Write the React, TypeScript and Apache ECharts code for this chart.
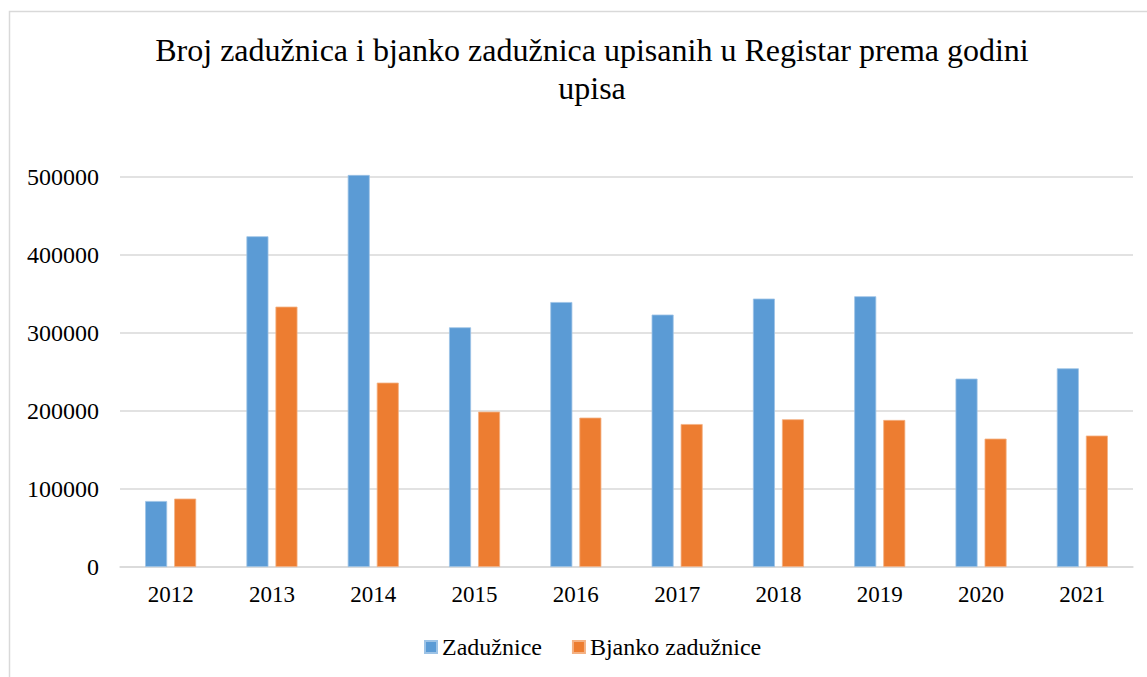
import React, { useEffect, useRef } from "react";
import * as echarts from "echarts";

const titleText = "Broj zadužnica i bjanko zadužnica upisanih u Registar prema godini\nupisa";
const years = ["2012", "2013", "2014", "2015", "2016", "2017", "2018", "2019", "2020", "2021"];
const zaduznice = [84600, 424000, 502600, 307300, 339700, 323600, 344100, 347100, 241500, 254700];
const bjanko = [87700, 333800, 236400, 199200, 191500, 183300, 189400, 188500, 164600, 168500];
const seriesNames = ["Zadužnice", "Bjanko zadužnice"];
const colors = ["#5B9BD5", "#ED7D31"];

const FONT = "Liberation Serif";

export default function App() {
  const ref = useRef<HTMLDivElement>(null);
  useEffect(() => {
    if (!ref.current) return;
    const chart = echarts.init(ref.current, undefined, { renderer: "svg" });
    chart.setOption({
      animation: false,
      backgroundColor: "#ffffff",
      textStyle: { fontFamily: FONT },
      title: {
        text: titleText,
        left: 587,
        textAlign: "center",
        top: 26,
        textStyle: {
          fontFamily: FONT,
          fontSize: 32,
          fontWeight: "normal",
          color: "#000",
          lineHeight: 38,
        },
      },
      graphic: [
        {
          type: "rect",
          shape: { x: 9.5, y: 11.5, width: 1160, height: 700 },
          style: { fill: "none", stroke: "#d9d9d9", lineWidth: 1.5 },
          silent: true,
        },
      ],
      legend: {
        top: 630,
        left: 419,
        itemWidth: 12,
        itemHeight: 12,
        itemGap: 30,
        icon: "rect",
        textStyle: { fontFamily: FONT, fontSize: 24, color: "#000", padding: [0, 0, 0, 0] },
        data: seriesNames,
      },
      grid: { left: 120, right: 14, top: 177, bottom: 110, containLabel: false },
      xAxis: {
        type: "category",
        data: years,
        axisLine: { lineStyle: { color: "#d9d9d9", width: 1.5 } },
        axisTick: { show: false },
        axisLabel: { fontFamily: FONT, fontSize: 23, color: "#000", margin: 16 },
      },
      yAxis: {
        type: "value",
        min: 0,
        max: 500000,
        interval: 100000,
        axisLine: { show: false },
        axisTick: { show: false },
        splitLine: { lineStyle: { color: "#d9d9d9", width: 1.5 } },
        axisLabel: {
          fontFamily: FONT,
          fontSize: 24,
          color: "#000",
          margin: 21,
          formatter: (v: number) => String(v),
        },
      },
      series: [
        {
          name: seriesNames[0],
          type: "bar",
          data: zaduznice,
          barWidth: 22,
          barGap: "32%",
          clip: false,
          itemStyle: { color: colors[0], borderColor: "#9dc3e6", borderWidth: 0.8 },
        },
        {
          name: seriesNames[1],
          type: "bar",
          data: bjanko,
          barWidth: 22,
          barGap: "32%",
          clip: false,
          itemStyle: { color: colors[1], borderColor: "#f4b183", borderWidth: 0.8 },
        },
      ],
    });
    return () => chart.dispose();
  }, []);
  return (
    <div
      ref={ref}
      style={{ position: "fixed", left: 0, top: 0, width: 1147, height: 677 }}
    />
  );
}
